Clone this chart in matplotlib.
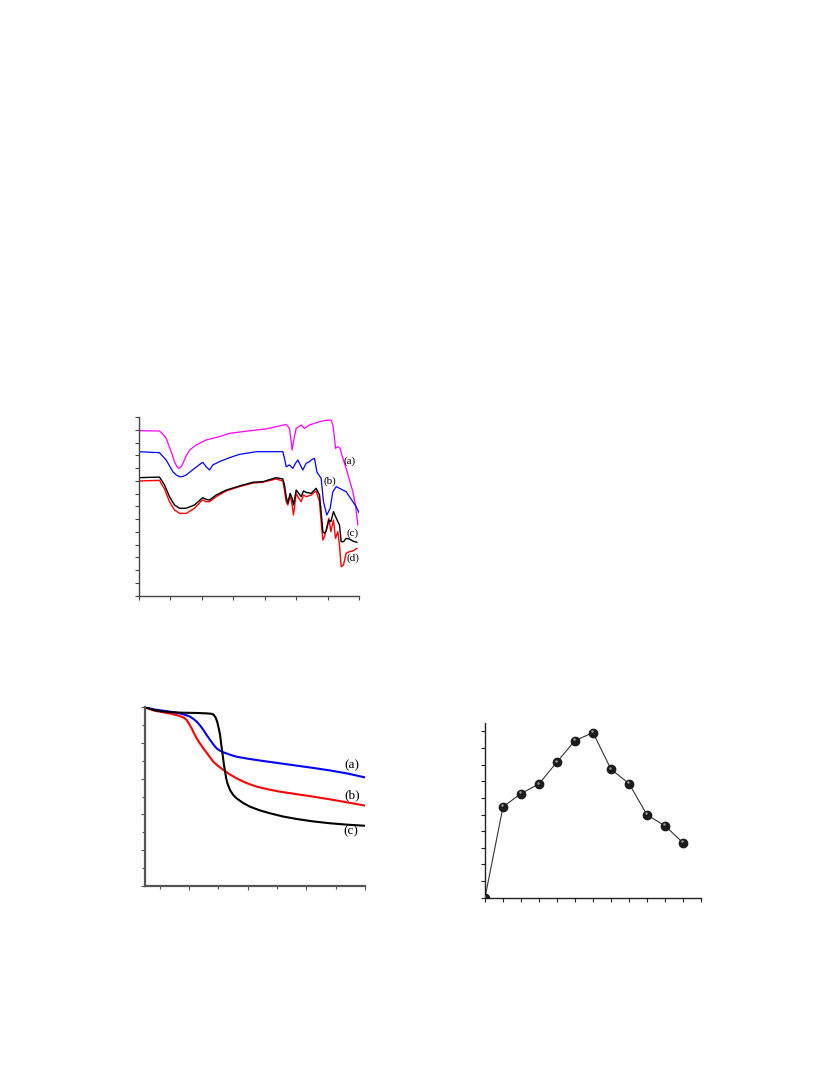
import matplotlib.pyplot as plt
from matplotlib.ticker import MultipleLocator, NullFormatter
from matplotlib.transforms import offset_copy

# --- FTIR spectra (top left) ---
wn_a = [4000, 3667, 3620, 3561, 3481, 3429, 3395, 3360, 3325, 3296, 3243, 3190, 3085, 2926,
        2714, 2556, 2344, 2132, 1974, 1815, 1656, 1603, 1577, 1561, 1540, 1497, 1418, 1365,
        1286, 1127, 1021, 942, 915, 888, 873, 836, 799, 757, 704, 651, 598, 556, 519]
t_a = [12.93, 12.90, 12.70, 12.33, 11.28, 10.50, 10.15, 9.97, 10.08, 10.35, 10.95, 11.41,
       11.80, 12.20, 12.46, 12.72, 12.85, 12.98, 13.06, 13.24, 13.42, 13.11, 12.07, 11.41,
       12.07, 13.11, 13.37, 13.11, 13.37, 13.63, 13.74, 13.76, 13.37, 12.33, 11.54, 11.67,
       11.54, 10.76, 9.97, 9.06, 8.14, 7.10, 5.53]

wn_b = [4000, 3667, 3561, 3455, 3400, 3349, 3300, 3243, 3111, 3005, 2979, 2926, 2873, 2820,
        2714, 2556, 2397, 2132, 1921, 1709, 1683, 1656, 1603, 1550, 1508, 1471, 1418, 1392,
        1339, 1286, 1259, 1206, 1169, 1138, 1101, 1064, 1011, 958, 915, 862, 810, 757, 704,
        651, 598, 545, 503]
t_b = [11.28, 11.20, 10.63, 9.71, 9.45, 9.32, 9.33, 9.45, 9.97, 10.37, 10.44, 10.10, 9.84,
       10.24, 10.50, 10.81, 11.07, 11.28, 11.28, 11.28, 10.76, 10.10, 10.24, 9.97, 10.37,
       10.63, 10.10, 9.84, 10.37, 10.50, 10.63, 10.76, 9.71, 9.45, 9.19, 7.36, 6.31, 6.84,
       8.14, 8.54, 8.41, 8.27, 8.14, 7.75, 7.36, 6.97, 6.52]

wn_cd = [4000, 3667, 3587, 3508, 3429, 3349, 3243, 3111, 3005, 2979, 2926, 2873, 2767, 2608,
         2397, 2185, 2026, 1815, 1709, 1683, 1656, 1630, 1593, 1561, 1540, 1497, 1455, 1418,
         1381, 1339, 1259, 1180, 1127, 1101, 1074, 1048, 1021, 979, 947, 905, 873, 836, 810,
         783, 746, 704, 651, 598, 534]
t_c = [9.24, 9.29, 8.67, 7.75, 7.10, 6.84, 6.84, 7.10, 7.57, 7.67, 7.54, 7.49, 7.88, 8.27,
       8.59, 8.88, 8.93, 9.24, 9.14, 8.67, 7.75, 7.23, 8.01, 7.62, 7.10, 8.27, 8.01, 7.75,
       8.20, 8.09, 8.01, 8.41, 7.88, 6.58, 5.01, 4.88, 5.06, 5.92, 5.79, 6.58, 6.20, 5.79,
       5.53, 4.22, 4.22, 4.48, 4.43, 4.27, 4.17]
t_d = [8.98, 9.03, 8.35, 7.36, 6.71, 6.44, 6.44, 6.84, 7.41, 7.49, 7.36, 7.36, 7.75, 8.20,
       8.54, 8.82, 8.88, 9.14, 8.98, 8.27, 7.36, 7.10, 7.88, 7.10, 6.31, 8.01, 7.62, 7.36,
       7.88, 7.75, 7.88, 8.20, 7.36, 5.79, 4.35, 4.61, 5.14, 6.05, 5.01, 5.92, 4.48, 5.01,
       3.96, 2.26, 2.39, 3.31, 3.44, 3.49, 3.70]

ftir_labels = ['(a)', '(b)', '(c)', '(d)']
ftir_label_x = [651, 958, 598, 598]
ftir_label_y = [10.50, 8.93, 4.88, 2.92]

# --- TGA curves (bottom left) ---
temp_a = [50, 80, 112, 140, 169, 190, 203, 215, 226, 238, 249, 260, 272, 283, 294, 305, 317,
          340, 362, 400, 453, 510, 567, 624, 681, 740, 800]
wt_a = [100, 98.8, 98.1, 97.4, 96.6, 95.6, 94.8, 93.5, 92.0, 89.8, 87.3, 84.5, 81.7, 79.2,
        77.0, 75.7, 74.8, 73.4, 72.3, 71.2, 69.9, 68.6, 67.3, 66.0, 64.6, 62.9, 60.7]
temp_b = [50, 80, 112, 140, 169, 182, 192, 200, 209, 217, 226, 237, 249, 266, 283, 300, 317,
          340, 362, 395, 431, 470, 510, 567, 624, 681, 740, 800]
wt_b = [100, 98.2, 97.2, 96.4, 95.1, 94.2, 92.9, 90.8, 88.2, 85.5, 82.6, 79.8, 77.0, 73.2,
        69.5, 67.0, 64.9, 62.3, 60.2, 57.6, 55.5, 54.0, 52.7, 51.3, 49.9, 48.4, 46.7, 44.9]
temp_c = [50, 80, 112, 169, 230, 260, 275, 283, 290, 296, 301, 306, 310, 315, 319, 323, 327,
          331, 340, 350, 362, 385, 408, 440, 476, 520, 567, 620, 680, 740, 800]
wt_c = [100, 98.5, 97.6, 97.0, 96.8, 96.6, 96.4, 96.0, 94.5, 92.0, 88.5, 84.5, 79.0, 73.0,
        68.0, 64.0, 60.0, 57.4, 53.6, 51.0, 49.0, 46.3, 44.3, 42.3, 40.6, 38.8, 37.4, 36.1,
        35.0, 34.2, 33.6]

tga_labels = ['(a)', '(b)', '(c)']
tga_label_x = [755, 755, 750]
tga_label_y = [67.7, 50.8, 30.3]

# --- point series (bottom right) ---
pt_x = [0, 1, 2, 3, 4, 5, 6, 7, 8, 9, 10, 11]
pt_y = [0, 5.46, 6.26, 6.84, 8.16, 9.44, 9.92, 7.72, 6.86, 4.98, 4.32, 3.30]

W, H = 816, 1079
fig = plt.figure(figsize=(W / 100, H / 100), dpi=100)
serif = ['Liberation Serif', 'DejaVu Serif']


def px_axes(left, top, right, bottom):
    return fig.add_axes([left / W, 1 - bottom / H, (right - left) / W, (bottom - top) / H])


def style(ax, spine_color, spine_w):
    for s in ['top', 'right']:
        ax.spines[s].set_visible(False)
    for s in ['left', 'bottom']:
        ax.spines[s].set_color(spine_color)
        ax.spines[s].set_linewidth(spine_w)
    ax.tick_params(which='both', direction='out', colors=spine_color,
                   labelleft=False, labelbottom=False)
    ax.tick_params(which='major', length=3, width=0.8)
    ax.tick_params(which='minor', length=2, width=0.8)
    ax.patch.set_alpha(0)


# FTIR
ax1 = px_axes(138.5, 417, 359, 595.5)
ax1.plot(wn_a, t_a, color='#ff00ff', lw=0.9)
ax1.plot(wn_b, t_b, color='#0000ff', lw=0.9)
ax1.plot(wn_cd, t_d, color='#ff0000', lw=1.0)
ax1.plot(wn_cd, t_c, color='black', lw=1.0)
ax1.set_xlim(4000, 500)
ax1.set_ylim(0, 14)
ax1.xaxis.set_major_locator(MultipleLocator(500))
ax1.yaxis.set_major_locator(MultipleLocator(1))
style(ax1, '#444444', 1.0)
for lab, lx, ly in zip(ftir_labels, ftir_label_x, ftir_label_y):
    ax1.text(lx, ly, lab, fontsize=8, family=serif, ha='center', va='center')

# TGA
ax2 = px_axes(145, 707.3, 365, 885.7)
ax2.plot(temp_a, wt_a, color='#0000ff', lw=1.5)
ax2.plot(temp_b, wt_b, color='#ff0000', lw=1.5)
ax2.plot(temp_c, wt_c, color='black', lw=1.5)
ax2.set_xlim(50, 800)
ax2.set_ylim(0, 100)
ax2.xaxis.set_major_locator(MultipleLocator(200))
ax2.xaxis.set_minor_locator(MultipleLocator(100))
ax2.yaxis.set_major_locator(MultipleLocator(20))
ax2.yaxis.set_minor_locator(MultipleLocator(10))
ax2.xaxis.set_minor_formatter(NullFormatter())
ax2.yaxis.set_minor_formatter(NullFormatter())
style(ax2, '#555555', 1.6)
for lab, lx, ly in zip(tga_labels, tga_label_x, tga_label_y):
    ax2.text(lx, ly, lab, fontsize=9.5, family=serif, ha='center', va='center')

# points
ax3 = px_axes(485, 723, 701, 897.7)
ax3.plot(pt_x, pt_y, color='#333333', lw=0.8, zorder=2)
ax3.plot(pt_x, pt_y, 'o', color='#1c1c1c', ms=6, zorder=3)
hi = offset_copy(ax3.transData, fig=fig, x=-1.0, y=1.0, units='points')
ax3.plot(pt_x, pt_y, 'o', color='#9a9a9a', ms=1.8, mew=0, transform=hi, zorder=4)
ax3.set_xlim(0, 12)
ax3.set_ylim(0, 10.5)
ax3.xaxis.set_major_locator(MultipleLocator(1))
ax3.yaxis.set_major_locator(MultipleLocator(1))
style(ax3, '#222222', 1.0)

fig.savefig('out.png', dpi=100)
